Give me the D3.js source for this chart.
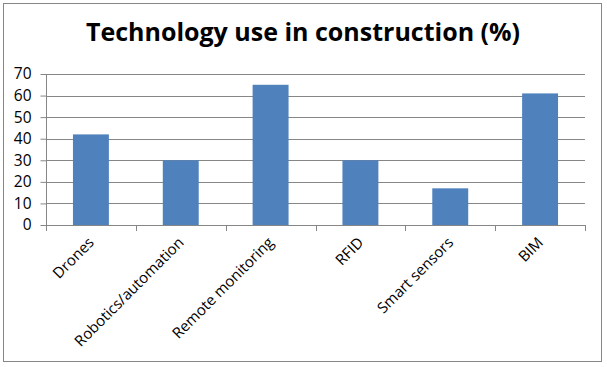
<!DOCTYPE html>
<html><head><meta charset="utf-8">
<script src="https://cdn.jsdelivr.net/npm/d3@7"></script>
<style>body{margin:0;background:#fff}svg{display:block}</style>
</head><body>
<script>
const categories = ["Drones","Robotics/automation","Remote monitoring","RFID","Smart sensors","BIM"];
const values = [42,30,65,30,17,61];
const yTicks = [0,10,20,30,40,50,60,70];
const title = "Technology use in construction (%)";

const W=607,H=367;
const svg=d3.select("body").append("svg").attr("width",W).attr("height",H);
svg.append("rect").attr("x",3.5).attr("y",3.5).attr("width",598).attr("height",358)
  .attr("fill","#fff").attr("stroke","#868686").attr("stroke-width",1);

const x=d3.scaleBand().domain(categories).range([46,585]);
const y=d3.scaleLinear().domain([0,70]).range([225,74]);

// gridlines
svg.append("g").selectAll("line").data(yTicks.filter(d=>d>0)).join("line")
  .attr("x1",46).attr("x2",585).attr("y1",d=>Math.round(y(d))+0.5).attr("y2",d=>Math.round(y(d))+0.5)
  .attr("stroke","#868686").attr("stroke-width",1);

// bars
const bw=x.bandwidth()*0.4;
svg.append("g").selectAll("rect").data(values).join("rect")
  .attr("x",(d,i)=>x(categories[i])+x.bandwidth()/2-bw/2)
  .attr("width",bw)
  .attr("y",d=>y(d)).attr("height",d=>y(0)-y(d))
  .attr("fill","#4f81bd");

// y axis
const ya=svg.append("g").attr("transform","translate(46.5,0)")
  .call(d3.axisLeft(y).tickValues(yTicks).tickSize(6).tickPadding(9).tickFormat(d3.format("d")));
ya.select(".domain").attr("stroke","#868686").attr("d","M0,"+y(70)+"V"+(y(0)+0.5));
ya.selectAll(".tick line").attr("stroke","#868686");
ya.selectAll("text").attr("font-family","'Open Sans', sans-serif").attr("font-size","15.5px").attr("fill","#000");

// x axis
const xa=svg.append("g").attr("transform","translate(0,"+(Math.round(y(0))+0.5)+")")
  .call(d3.axisBottom(x).tickSize(0).tickPadding(0));
xa.select(".domain").attr("stroke","#868686").attr("d","M46,0H585");
// category separator ticks
svg.append("g").selectAll("line").data(categories.concat(["__end"])).join("line")
  .attr("x1",(d,i)=>Math.round(i<categories.length?x(d):585)+0.5)
  .attr("x2",(d,i)=>Math.round(i<categories.length?x(d):585)+0.5)
  .attr("y1",y(0)).attr("y2",y(0)+6).attr("stroke","#868686");
xa.selectAll(".tick text")
  .attr("font-family","'Open Sans', sans-serif").attr("font-size","15px").attr("fill","#000")
  .attr("text-anchor","end").attr("dy","0")
  .attr("transform","translate(4,18) rotate(-45)");

svg.append("text").attr("x",303).attr("y",41).attr("text-anchor","middle")
  .attr("font-family","'Open Sans', sans-serif").attr("font-weight","bold").attr("font-size","25px")
  .attr("fill","#000").text(title);
</script>
</body></html>
